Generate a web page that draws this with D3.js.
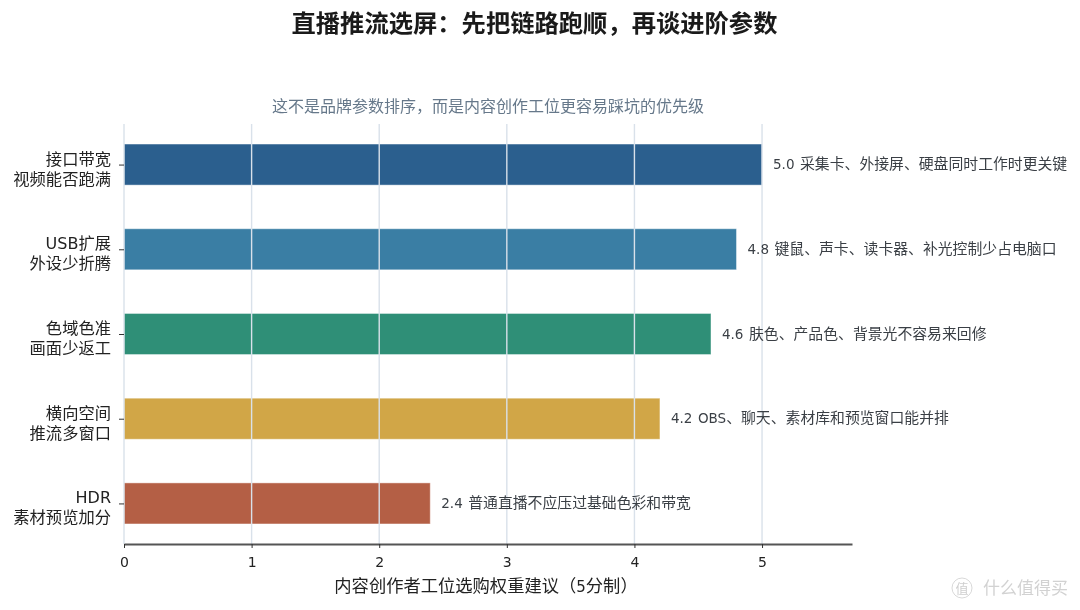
<!DOCTYPE html>
<html><head><meta charset="utf-8">
<script src="https://cdn.jsdelivr.net/npm/d3@7"></script>
<style>html,body{margin:0;padding:0;background:#fff}svg{display:block;filter:blur(0.55px)}text{font-family:"DejaVu Sans","Noto Sans CJK SC",sans-serif}</style>
</head><body><svg id="c" width="1080" height="610"></svg>
<script>
const categories=[["接口带宽","视频能否跑满"],["USB扩展","外设少折腾"],["色域色准","画面少返工"],["横向空间","推流多窗口"],["HDR","素材预览加分"]];
const values=[5.0,4.8,4.6,4.2,2.4];
const notes=["采集卡、外接屏、硬盘同时工作时更关键","键鼠、声卡、读卡器、补光控制少占电脑口","肤色、产品色、背景光不容易来回修","OBS、聊天、素材库和预览窗口能并排","普通直播不应压过基础色彩和带宽"];
const colors=["#2b5f8e","#3a7ea4","#2f8f77","#d1a647","#b45f45"];
const xTicks=[0,1,2,3,4,5];
const titleText="直播推流选屏：先把链路跑顺，再谈进阶参数";
const subtitleText="这不是品牌参数排序，而是内容创作工位更容易踩坑的优先级";
const xLabel="内容创作者工位选购权重建议（5分制）";
const watermark="什么值得买";

// Latin and CJK runs are set at different sizes, as in the reference.
function runs(sel,latin,cjk){
  sel.selectAll("tspan").data(d=>d.match(/[\x00-\x7f]+|[^\x00-\x7f]+/g)).join("tspan")
    .attr("font-size",d=>/^[\x00-\x7f]/.test(d)?latin:cjk).text(d=>d);
}
const svg=d3.select("#c");
const x=d3.scaleLinear().domain([0,5.705]).range([124,852]);
const y=d3.scaleBand().domain(d3.range(categories.length)).range([122,546]).paddingInner(0.515).paddingOuter(0.26);
const plotTop=124,plotBottom=544;

svg.append("text").attr("x",534.5).attr("y",32).attr("text-anchor","middle").attr("font-size",24.3).attr("font-weight",700).attr("fill","#1a1a1a").text(titleText);
svg.append("text").attr("x",488).attr("y",112).attr("text-anchor","middle").attr("font-size",16).attr("fill","#66788a").text(subtitleText);

svg.append("g").selectAll("rect").data(values).join("rect")
 .attr("x",x(0)).attr("y",(d,i)=>y(i)).attr("width",d=>x(d)-x(0)).attr("height",y.bandwidth())
 .attr("fill",(d,i)=>colors[i]).attr("stroke","#ffffff").attr("stroke-opacity",.45).attr("stroke-width",1);

svg.append("g").selectAll("line").data(xTicks).join("line")
 .attr("x1",d=>x(d)).attr("x2",d=>x(d)).attr("y1",plotTop).attr("y2",plotBottom)
 .attr("stroke","#d9e1ea").attr("stroke-width",1.4);

const xAxis=svg.append("g").attr("transform",`translate(0,${plotBottom})`).call(d3.axisBottom(x).tickValues(xTicks).tickSize(4).tickSizeOuter(0).tickFormat(d3.format("d")));
xAxis.select(".domain").attr("stroke","#555").attr("stroke-width",1.8);
xAxis.selectAll(".tick line").attr("stroke","#333");
xAxis.selectAll("text").attr("font-size",14).attr("fill","#222").attr("y",10).attr("dy","0.95em").style("font-family",'"DejaVu Sans"');

const yAxis=svg.append("g").attr("transform",`translate(${x(0)},0)`).call(d3.axisLeft(d3.scalePoint().domain(d3.range(5)).range([y(0)+y.bandwidth()/2,y(4)+y.bandwidth()/2])).tickSize(5).tickFormat(""));
yAxis.select(".domain").remove();
yAxis.selectAll(".tick line").attr("stroke","#333");

svg.append("g").selectAll("g").data(categories).join("g")
 .attr("transform",(d,i)=>`translate(111,${y(i)+y.bandwidth()/2})`)
 .selectAll("text").data(d=>d).join("text")
 .attr("text-anchor","end").attr("fill","#222").attr("y",(d,i)=>i===0?0:20)
 .call(runs,16,16.3);

const vals=svg.append("g");
vals.selectAll("text.v").data(values).join("text").attr("class","v")
 .attr("x",d=>x(d)+11).attr("y",(d,i)=>y(i)+y.bandwidth()/2+4.5).attr("font-size",13.5).attr("fill","#3a3f45")
 .text(d=>d.toFixed(1));
vals.selectAll("text.n").data(notes).join("text").attr("class","n")
 .attr("x",(d,i)=>x(values[i])+38).attr("y",(d,i)=>y(i)+y.bandwidth()/2+4.5).attr("fill","#3a3f45")
 .call(runs,13.5,14.85);

svg.append("text").datum(xLabel).attr("x",486).attr("y",592).attr("text-anchor","middle").attr("fill","#222").call(runs,15,17.3);

svg.append("circle").attr("cx",962).attr("cy",588).attr("r",10).attr("fill","none").attr("stroke","#d8d8d8");
svg.append("text").attr("x",962).attr("y",593).attr("text-anchor","middle").attr("font-size",13).attr("fill","#cfcfcf").text("值");
svg.append("text").attr("x",983).attr("y",594).attr("font-size",17).attr("fill","#d2d2d2").text(watermark);
</script></body></html>
